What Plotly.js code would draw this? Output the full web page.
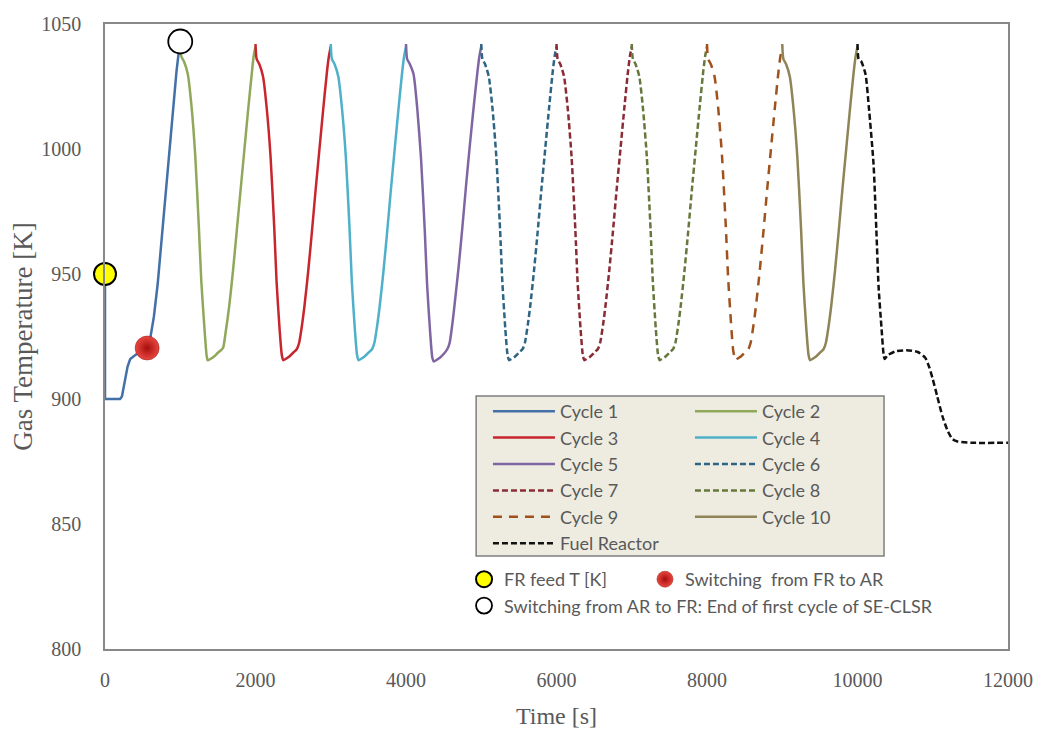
<!DOCTYPE html>
<html>
<head>
<meta charset="utf-8">
<script src="https://cdn.plot.ly/plotly-3.0.1.min.js"></script>
<style>html,body{margin:0;padding:0;background:#fff}#chart{width:1038px;height:733px}</style>
</head>
<body>
<div id="chart"></div>
<script>
// ---- Data ----
const c1x = [0,0,100,200,225,260,300,335,380,420,500,560,600,650,700,750,800,850,900,950,975,1000];
const c1y = [950,900,900,900,901,907,913,916,917,918,919,920.4,924,933,946,963,981,999,1016,1031,1037.5,1041];

const c2x = [1000,1015,1050,1100,1150,1200,1250,1280,1320,1350,1365,1400,1450,1500,1540,1570,1600,1650,1700,1750,1800,1850,1900,1950,1975,2000];
const c2y = [1042,1037,1035,1030,1017,997,967,947,929,917.5,915.5,916,917,918.5,919.5,920.5,926,937,951,967,983,999,1015,1030,1037,1041];

const c3x = [2000,2015,2050,2100,2150,2200,2250,2280,2320,2350,2370,2400,2450,2500,2550,2580,2620,2650,2700,2750,2800,2850,2900,2950,2975,3000];
const c3y = [1042,1036,1034,1029,1016,997,968,947,928,917.5,915.5,916,917,918.5,920,922.5,930,937,951,967,984,1000,1016,1031,1037,1041];

const c4x = [3000,3015,3050,3100,3150,3200,3250,3280,3320,3350,3370,3400,3450,3500,3550,3580,3620,3650,3700,3750,3800,3850,3900,3950,3975,4000];
const c4y = [1042,1036,1034,1029,1016,997,968,947,928,917.5,915.5,916,917,918.5,920,922.5,930,937,951,967,984,1000,1016,1031,1037,1041];

const c5x = [4000,4015,4050,4100,4150,4200,4250,4280,4320,4350,4370,4400,4450,4500,4550,4580,4620,4650,4700,4750,4800,4850,4900,4950,4975,5000];
const c5y = [1042,1036,1034,1030,1016,996,967,946,927,916.5,915,915.5,916.5,918,920,922.5,931,939,953,969,986,1002,1017,1031,1037,1041];

const c6x = [5000,5015,5050,5100,5150,5200,5250,5280,5320,5350,5370,5400,5450,5500,5550,5580,5620,5650,5700,5750,5800,5850,5900,5950,5975,6000];
const c6y = [1042,1036,1034,1029,1016,997,968,947,928,917.5,915.5,916,917,918.5,920,922.5,930,937,951,967,984,1000,1016,1031,1037,1041];

const c7x = [6000,6015,6050,6100,6150,6200,6250,6280,6320,6350,6370,6400,6450,6500,6550,6580,6620,6650,6700,6750,6800,6850,6900,6950,6975,7000];
const c7y = [1042,1036,1034,1029,1016,997,968,947,928,917.5,915.5,916,917,918.5,920,922.5,930,937,951,967,984,1000,1016,1031,1037,1041];

const c8x = [7000,7015,7050,7100,7150,7200,7250,7280,7320,7350,7370,7400,7450,7500,7550,7580,7620,7650,7700,7750,7800,7850,7900,7950,7975,8000];
const c8y = [1042,1036,1034,1029,1016,997,968,947,928,917.5,915.5,916,917,918.5,920,922.5,930,937,951,967,984,1000,1016,1031,1037,1041];

const c9x = [8000,8015,8050,8100,8150,8200,8250,8280,8320,8350,8380,8400,8450,8500,8550,8580,8620,8650,8700,8750,8800,8850,8900,8950,8975,9000];
const c9y = [1042,1036,1034,1029,1016,997,969,949,930,919,915.5,916,917,918.5,920,922.5,930,937,951,967,984,1000,1016,1031,1037,1041];

const c10x = [9000,9015,9050,9100,9150,9200,9250,9280,9320,9350,9370,9400,9450,9500,9550,9580,9620,9650,9700,9750,9800,9850,9900,9950,9975,10000];
const c10y = [1042,1036,1034,1029,1016,997,968,947,928,917.5,915.5,916,917,918.5,920,922.5,930,937,951,967,984,1000,1016,1031,1037,1041];

const frx = [10000,10015,10050,10106,10150,10213,10250,10280,10320,10346,10360,10400,10500,10650,10800,10900,10950,11000,11060,11130,11195,11260,11330,11500,12000];
const fry = [1042,1036,1035,1030,1017,994,968,945,928,918,916,917.5,919,919.5,918.8,916.5,913,908,901,893,887.5,884,883,882.5,882.5];

const feedX = [0],    feedY = [950];
const frArX = [560],  frArY = [920.4];
const arFrX = [1000], arFrY = [1043];

const seriesNames = ['Cycle 1','Cycle 2','Cycle 3','Cycle 4','Cycle 5','Cycle 6','Cycle 7','Cycle 8','Cycle 9','Cycle 10','Fuel Reactor'];
const markerNames = ['FR feed T [K]','Switching  from FR to AR','Switching from AR to FR: End of first cycle of SE-CLSR'];
const xTickVals = [0,2000,4000,6000,8000,10000,12000];
const yTickVals = [800,850,900,950,1000,1050];

// ---- Styling ----
const xs = [c1x,c2x,c3x,c4x,c5x,c6x,c7x,c8x,c9x,c10x,frx];
const ys = [c1y,c2y,c3y,c4y,c5y,c6y,c7y,c8y,c9y,c10y,fry];
const colors = ['#4470A8','#8FA85A','#C8262E','#4EB0C9','#7F66A3','#2F6584','#8A2C36','#66783C','#A0521D','#8F8458','#111111'];
const dashes = ['solid','solid','solid','solid','solid','6px,3px','6px,3px','6px,3px','9px,7px','solid','6px,3px'];
// left column: 1,3,5,7,9,FR ; right column: 2,4,6,8,10
const legendOf = ['legend','legend2','legend','legend2','legend','legend2','legend','legend2','legend','legend2','legend'];

const traces = [];
for (let i = 0; i < xs.length; i++) {
  traces.push({
    type: 'scatter', mode: 'lines', x: xs[i], y: ys[i], name: seriesNames[i],
    line: {color: colors[i], width: 2.5, dash: dashes[i], shape: i === 0 ? 'linear' : 'spline', smoothing: 0.6},
    legend: legendOf[i], hoverinfo: 'x+y+name'
  });
}

traces.push({type:'scatter', mode:'markers', x: feedX, y: feedY, name: markerNames[0], legend:'legend3',
  marker:{size:22, color:'#FFFF00', line:{color:'#000000', width:2}}, cliponaxis:false});
traces.push({type:'scatter', mode:'markers', x: arFrX, y: arFrY, name: markerNames[2], legend:'legend3',
  marker:{size:24, color:'#FFFFFF', line:{color:'#000000', width:1.8}}, cliponaxis:false});
traces.push({type:'scatter', mode:'markers', x: frArX, y: frArY, name: markerNames[1], legend:'legend4',
  marker:{size:24, color:'#E8473F', gradient:{type:'radial', color:'#A80E0E'}, line:{color:'#9A1010', width:0.5}}, cliponaxis:false});

const legendFont = {family:'Lato, Calibri, sans-serif', size:18, color:'#595959'};
const baseLegend = {bgcolor:'rgba(0,0,0,0)', borderwidth:0, xanchor:'left', yanchor:'top', font: legendFont, traceorder:'normal', tracegroupgap:0};

const layout = {
  width: 1038, height: 733,
  margin: {l:105, r:30, t:24, b:84},
  paper_bgcolor:'#FFFFFF', plot_bgcolor:'#FFFFFF',
  showlegend: true,
  xaxis: {
    range:[0,12000], tickvals: xTickVals, ticktext: xTickVals.map(String),
    showgrid:false, zeroline:false, showline:true, mirror:true, linecolor:'#888888', linewidth:1.5,
    ticks:'', ticklabelstandoff: 12,
    tickfont:{family:'Liberation Serif, Times New Roman, serif', size:20, color:'#595959'},
    title:{text:'Time [s]', font:{family:'Liberation Serif, Times New Roman, serif', size:24, color:'#595959'}, standoff:17}
  },
  yaxis: {
    range:[800,1050], tickvals: yTickVals, ticktext: yTickVals.map(String),
    showgrid:false, zeroline:false, showline:true, mirror:true, linecolor:'#888888', linewidth:1.5,
    ticks:'', ticklabelstandoff: 18,
    tickfont:{family:'Liberation Serif, Times New Roman, serif', size:20, color:'#595959'},
    title:{text:'Gas Temperature [K]', font:{family:'Liberation Serif, Times New Roman, serif', size:27, color:'#595959'}, standoff:1}
  },
  legend:  Object.assign({}, baseLegend, {x:0.4241, y:0.4096, itemwidth:62}),
  legend2: Object.assign({}, baseLegend, {x:0.6478, y:0.4096, itemwidth:62}),
  legend3: Object.assign({}, baseLegend, {x:0.3976, y:0.1408, itemwidth:30}),
  legend4: Object.assign({}, baseLegend, {x:0.598,  y:0.1408, itemwidth:30}),
  shapes: [{type:'rect', xref:'paper', yref:'paper', x0:0.411, x1:0.8627, y0:0.1488, y1:0.4048,
    fillcolor:'#EEECE1', line:{color:'#7F7F7F', width:1.5}, layer:'below'}]
};

Plotly.newPlot('chart', traces, layout, {displayModeBar:false});
</script>
</body>
</html>
